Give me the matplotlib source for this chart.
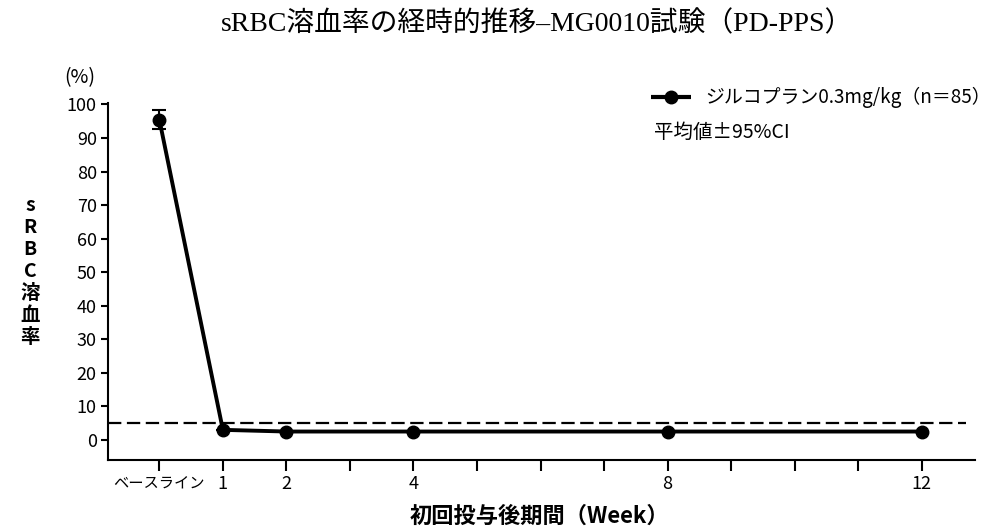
import numpy as np
import matplotlib.pyplot as plt

plt.rcParams['font.family'] = ['Noto Sans CJK JP', 'DejaVu Sans']

# 週（ベースライン = 0）
weeks = [0, 1, 2, 4, 8, 12]
hemolysis = [95.5, 3.0, 2.5, 2.5, 2.5, 2.5]
ci_low = [92.8, 3.0, 2.5, 2.5, 2.5, 2.5]
ci_high = [98.3, 3.0, 2.5, 2.5, 2.5, 2.5]
threshold = 5

tick_pos = list(range(0, 13))
tick_labels = ['ベースライン', '1', '2', '', '4', '', '', '', '8', '', '', '', '12']
yticks = list(range(0, 101, 10))

fig = plt.figure(figsize=(9.99, 5.30), dpi=100)
ax = fig.add_axes([0.108, 0.132, 0.868, 0.674])

yerr = [np.array(hemolysis) - np.array(ci_low), np.array(ci_high) - np.array(hemolysis)]
ax.errorbar(weeks, hemolysis, yerr=yerr, color='black', lw=2.8, marker='o',
            markersize=9, capsize=5, elinewidth=1.5, capthick=1.5, zorder=3)
ax.plot([-0.81, 12.7], [threshold, threshold], color='black', lw=1.6,
        dashes=(6, 2.5), zorder=2)

ax.set_xlim(-0.81, 12.84)
ax.set_ylim(-6, 100.5)
ax.set_xticks(tick_pos)
ax.set_xticklabels(tick_labels, fontsize=13)
ax.get_xticklabels()[0].set_fontsize(11)
ax.set_yticks(yticks)
ax.tick_params(axis='y', labelsize=13, length=5, width=1.5, pad=3)
ax.tick_params(axis='x', length=8, width=1.5, pad=3)
for s in ['top', 'right']:
    ax.spines[s].set_visible(False)
for s in ['left', 'bottom']:
    ax.spines[s].set_linewidth(1.5)

fig.text(0.538, 0.955, 'sRBC溶血率の経時的推移–MG0010試験（PD-PPS）',
         ha='center', va='center', fontsize=20,
         family=['Liberation Serif', 'Noto Sans CJK JP'])
fig.text(0.080, 0.853, '(%)', ha='center', va='center', fontsize=14)
fig.text(0.030, 0.487, 's\nR\nB\nC\n溶\n血\n率', ha='center', va='center',
         fontsize=14, fontweight='bold', linespacing=1.2)
fig.text(0.54, 0.025, '初回投与後期間（Week）', ha='center', va='center',
         fontsize=16, fontweight='bold')

# 凡例
fig.lines.append(plt.Line2D([0.652, 0.672, 0.692], [0.817, 0.817, 0.817],
                            transform=fig.transFigure, color='black', lw=3,
                            marker='o', markersize=9, markevery=[1],
                            solid_capstyle='butt'))
fig.text(0.706, 0.817, 'ジルコプラン0.3mg/kg（n＝85）', ha='left', va='center', fontsize=13.6)
fig.text(0.655, 0.751, '平均値±95%CI', ha='left', va='center', fontsize=14)

fig.savefig('out.png', dpi=100)
